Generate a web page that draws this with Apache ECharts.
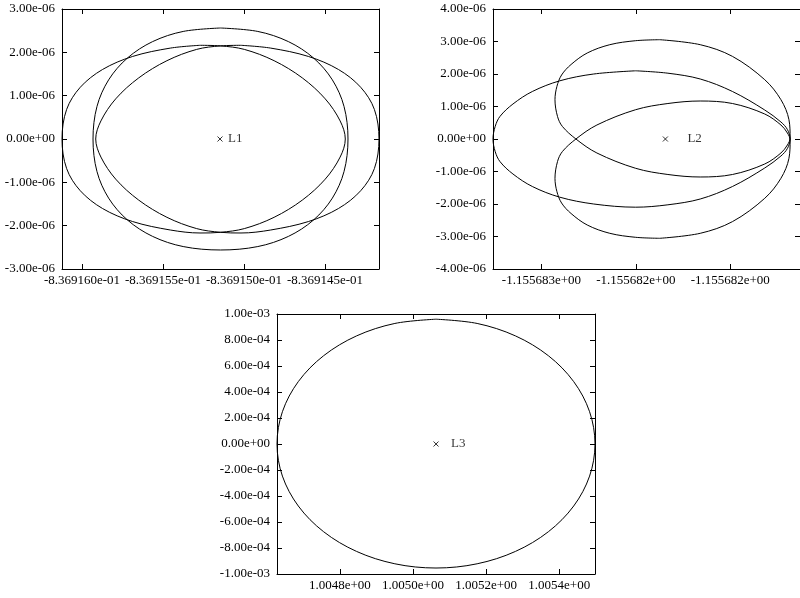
<!DOCTYPE html>
<html><head><meta charset="utf-8">
<script src="https://cdn.jsdelivr.net/npm/echarts@6/dist/echarts.min.js"></script>
<style>html,body{margin:0;padding:0;background:#fff}#c{width:800px;height:598px}</style>
</head><body><div id="c"></div>
<script>
// ---------- Panel 1 (L1) ----------
const p1XRange = [-0.8369161235, -0.8369141667];
const p1YRange = [-3e-6, 3e-6];
const p1TickX = [-0.836916, -0.8369155, -0.836915, -0.8369145];
const p1TickXLabels = ['-8.369160e-01', '-8.369155e-01', '-8.369150e-01', '-8.369145e-01'];
const p1TickY = [-3e-6, -2e-6, -1e-6, 0, 1e-6, 2e-6, 3e-6];
const p1TickYLabels = ['-3.00e-06', '-2.00e-06', '-1.00e-06', '0.00e+00', '1.00e-06', '2.00e-06', '3.00e-06'];

// loop reaching the left border, narrower on the right
const l1LoopPX = [-0.8369152716, -0.8369151451, -0.8369149979, -0.8369148142, -0.8369146401, -0.8369144985, -0.8369144066, -0.8369143748, -0.8369144066, -0.8369144985, -0.8369146401, -0.8369148142, -0.8369149979, -0.8369151451, -0.8369152716, -0.8369154548, -0.8369156875, -0.8369158736, -0.8369160108, -0.8369160950, -0.8369161235, -0.8369160950, -0.8369160108, -0.8369158736, -0.8369156875, -0.8369154548, -0.8369152716];
const l1LoopPY = [2.1623e-6, 2.1485e-6, 2.0677e-6, 1.8069e-6, 1.4100e-6, 9.263e-7, 4.170e-7, 0, -4.170e-7, -9.263e-7, -1.4100e-6, -1.8069e-6, -2.0677e-6, -2.1531e-6, -2.1692e-6, -2.1000e-6, -1.9050e-6, -1.6032e-6, -1.1935e-6, -6.817e-7, 0, 6.817e-7, 1.1935e-6, 1.6032e-6, 1.9050e-6, 2.0977e-6, 2.1623e-6];

// loop reaching the right border, narrower on the left
const l1LoopQX = [-0.8369150185, -0.8369151451, -0.8369152923, -0.8369154759, -0.8369156500, -0.8369157920, -0.8369158833, -0.8369159154, -0.8369158833, -0.8369157920, -0.8369156500, -0.8369154759, -0.8369152923, -0.8369151451, -0.8369150185, -0.8369148352, -0.8369146025, -0.8369144167, -0.8369142796, -0.8369141951, -0.8369141667, -0.8369141951, -0.8369142796, -0.8369144167, -0.8369146025, -0.8369148352, -0.8369150185];
const l1LoopQY = [2.1623e-6, 2.1485e-6, 2.0677e-6, 1.8069e-6, 1.4100e-6, 9.263e-7, 4.170e-7, 0, -4.170e-7, -9.263e-7, -1.4100e-6, -1.8069e-6, -2.0677e-6, -2.1531e-6, -2.1692e-6, -2.1000e-6, -1.9050e-6, -1.6032e-6, -1.1935e-6, -6.817e-7, 0, 6.817e-7, 1.1935e-6, 1.6032e-6, 1.9050e-6, 2.0977e-6, 2.1623e-6];

// tall loop
const l1LoopTX = [-0.8369151451, -0.8369149148, -0.8369147260, -0.8369145708, -0.8369144546, -0.8369143825, -0.8369143581, -0.8369143825, -0.8369144546, -0.8369145708, -0.8369147260, -0.8369149148, -0.8369151451, -0.8369153754, -0.8369155642, -0.8369157194, -0.8369158357, -0.8369159077, -0.8369159321, -0.8369159077, -0.8369158357, -0.8369157194, -0.8369155642, -0.8369153754, -0.8369151451];
const l1LoopTY = [2.5615e-6, 2.4822e-6, 2.2475e-6, 1.8692e-6, 1.3641e-6, 7.498e-7, 0, -7.498e-7, -1.3641e-6, -1.8692e-6, -2.2475e-6, -2.4822e-6, -2.5615e-6, -2.4822e-6, -2.2475e-6, -1.8692e-6, -1.3641e-6, -7.498e-7, 0, 7.498e-7, 1.3641e-6, 1.8692e-6, 2.2475e-6, 2.4822e-6, 2.5615e-6];

// ---------- Panel 2 (L2) ----------
const p2XRange = [-1.1556832564, -1.1556816308];
const p2YRange = [-4e-6, 4e-6];
const p2TickX = [-1.155683, -1.1556825, -1.155682];
const p2TickXLabels = ['-1.155683e+00', '-1.155682e+00', '-1.155682e+00'];
const p2TickY = [-4e-6, -3e-6, -2e-6, -1e-6, 0, 1e-6, 2e-6, 3e-6, 4e-6];
const p2TickYLabels = ['-4.00e-06', '-3.00e-06', '-2.00e-06', '-1.00e-06', '0.00e+00', '1.00e-06', '2.00e-06', '3.00e-06', '4.00e-06'];

const l2LoopAX = [-1.1556825010, -1.1556823303, -1.1556821590, -1.1556819883, -1.1556818175, -1.1556817318, -1.1556816975, -1.1556816831, -1.1556816975, -1.1556817318, -1.1556818175, -1.1556819883, -1.1556821590, -1.1556823303, -1.1556825010, -1.1556827231, -1.1556829026, -1.1556830482, -1.1556831508, -1.1556832190, -1.1556832446, -1.1556832564, -1.1556832446, -1.1556832190, -1.1556831508, -1.1556830482, -1.1556829026, -1.1556827231, -1.1556825010];
const l2LoopAY = [2.0985e-6, 2.0246e-6, 1.8462e-6, 1.4615e-6, 8.923e-7, 5.231e-7, 2.923e-7, 0, -2.923e-7, -5.231e-7, -8.923e-7, -1.4615e-6, -1.8462e-6, -2.0246e-6, -2.0985e-6, -2.0e-6, -1.7908e-6, -1.4615e-6, -1.0769e-6, -6.985e-7, -3.908e-7, 0, 3.908e-7, 6.985e-7, 1.0769e-6, 1.4615e-6, 1.7908e-6, 2.0e-6, 2.0985e-6];

const l2LoopBX = [-1.1556823729, -1.1556821590, -1.1556819883, -1.1556818175, -1.1556817318, -1.1556816893, -1.1556816831, -1.1556816975, -1.1556817318, -1.1556818175, -1.1556819883, -1.1556821590, -1.1556823303, -1.1556825010, -1.1556827062, -1.1556828174, -1.1556828892, -1.1556829149, -1.1556829282, -1.1556829180, -1.1556828933, -1.1556828431, -1.1556827574, -1.1556826380, -1.1556825010, -1.1556823729];
const l2LoopBY = [3.0554e-6, 2.9015e-6, 2.5415e-6, 1.8246e-6, 1.2092e-6, 5.938e-7, 3.08e-8, -1.846e-7, -4.308e-7, -7.692e-7, -1.0923e-6, -1.1692e-6, -1.0923e-6, -9.015e-7, -4.308e-7, 0, 3.877e-7, 6.954e-7, 1.2092e-6, 1.6185e-6, 1.9692e-6, 2.2923e-6, 2.6462e-6, 2.9015e-6, 3.0246e-6, 3.0554e-6];

const l2LoopCX = [-1.1556823729, -1.1556821590, -1.1556819883, -1.1556818175, -1.1556817318, -1.1556816893, -1.1556816831, -1.1556816975, -1.1556817318, -1.1556818175, -1.1556819883, -1.1556821590, -1.1556823303, -1.1556825010, -1.1556827062, -1.1556828174, -1.1556828892, -1.1556829149, -1.1556829282, -1.1556829180, -1.1556828933, -1.1556828431, -1.1556827574, -1.1556826380, -1.1556825010, -1.1556823729];
const l2LoopCY = [-3.0554e-6, -2.9015e-6, -2.5415e-6, -1.8246e-6, -1.2092e-6, -5.938e-7, -3.08e-8, 1.846e-7, 4.308e-7, 7.692e-7, 1.0923e-6, 1.1692e-6, 1.0923e-6, 9.015e-7, 4.308e-7, 0, -3.877e-7, -6.954e-7, -1.2092e-6, -1.6185e-6, -1.9692e-6, -2.2923e-6, -2.6462e-6, -2.9015e-6, -3.0246e-6, -3.0554e-6];

// ---------- Panel 3 (L3) ----------
const p3XRange = [1.00462817, 1.00549784];
const p3YRange = [-1e-3, 1e-3];
const p3TickX = [1.0048, 1.005, 1.0052, 1.0054];
const p3TickXLabels = ['1.0048e+00', '1.0050e+00', '1.0052e+00', '1.0054e+00'];
const p3TickY = [-1e-3, -8e-4, -6e-4, -4e-4, -2e-4, 0, 2e-4, 4e-4, 6e-4, 8e-4, 1e-3];
const p3TickYLabels = ['-1.00e-03', '-8.00e-04', '-6.00e-04', '-4.00e-04', '-2.00e-04', '0.00e+00', '2.00e-04', '4.00e-04', '6.00e-04', '8.00e-04', '1.00e-03'];

const l3LoopX = [1.00506301, 1.00517555, 1.00528042, 1.00537048, 1.00543958, 1.00548302, 1.00549784, 1.00548302, 1.00543958, 1.00537048, 1.00528042, 1.00517555, 1.00506301, 1.00495046, 1.00484559, 1.00475553, 1.00468643, 1.00464299, 1.00462817, 1.00464299, 1.00468643, 1.00475553, 1.00484559, 1.00495046, 1.00506301];
const l3LoopY = [9.6e-4, 9.2729e-4, 8.3138e-4, 6.7882e-4, 4.8e-4, 2.4847e-4, 0, -2.4691e-4, -4.77e-4, -6.7458e-4, -8.2619e-4, -9.2149e-4, -9.54e-4, -9.2149e-4, -8.2619e-4, -6.7458e-4, -4.77e-4, -2.4691e-4, 0, 2.4847e-4, 4.8e-4, 6.7882e-4, 8.3138e-4, 9.2729e-4, 9.6e-4];

// ---------- Libration points ----------
const libNames = ['L1', 'L2', 'L3'];
const libX = [-0.8369151482, -1.1556823436, 1.0050631];
const libY = [0, 0, 0];

// ---------- build chart ----------
const FONT = 'Liberation Serif';
const grids = [
  { left: 62, top: 9, width: 317, height: 260 },
  { left: 493, top: 9, width: 317, height: 260 },
  { left: 277, top: 314, width: 318, height: 260 }
];
const panels = [
  { xr: p1XRange, yr: p1YRange, tx: p1TickX, txl: p1TickXLabels, ty: p1TickY, tyl: p1TickYLabels },
  { xr: p2XRange, yr: p2YRange, tx: p2TickX, txl: p2TickXLabels, ty: p2TickY, tyl: p2TickYLabels },
  { xr: p3XRange, yr: p3YRange, tx: p3TickX, txl: p3TickXLabels, ty: p3TickY, tyl: p3TickYLabels }
];
function labeler(vals, labels) {
  return function (v) {
    let best = 0, bd = Infinity;
    for (let i = 0; i < vals.length; i++) {
      const d = Math.abs(vals[i] - v);
      if (d < bd) { bd = d; best = i; }
    }
    return labels[best];
  };
}
const xAxes = [], yAxes = [];
panels.forEach((p, g) => {
  const make = (pos, isX, showLabel) => ({
    type: 'value', gridIndex: g, position: pos,
    min: isX ? p.xr[0] : p.yr[0], max: isX ? p.xr[1] : p.yr[1],
    scale: true,
    axisLine: { show: true, onZero: false, lineStyle: { color: '#000', width: 1 } },
    axisTick: { show: true, inside: true, length: 5, customValues: isX ? p.tx : p.ty, lineStyle: { color: '#000', width: 1 } },
    axisLabel: {
      show: showLabel, customValues: isX ? p.tx : p.ty,
      formatter: isX ? labeler(p.tx, p.txl) : labeler(p.ty, p.tyl),
      fontFamily: FONT, fontSize: 13, color: '#000', margin: isX ? 5 : 7,
      showMinLabel: true, showMaxLabel: true, hideOverlap: false
    },
    splitLine: { show: false }
  });
  xAxes.push(make('bottom', true, true));
  xAxes.push(make('top', true, false));
  yAxes.push(make('left', false, true));
  yAxes.push(make('right', false, false));
});
function zip(xs, ys) { return xs.map((x, i) => [x, ys[i]]); }
const loops = [
  [0, l1LoopPX, l1LoopPY], [0, l1LoopQX, l1LoopQY], [0, l1LoopTX, l1LoopTY],
  [1, l2LoopAX, l2LoopAY], [1, l2LoopBX, l2LoopBY], [1, l2LoopCX, l2LoopCY],
  [2, l3LoopX, l3LoopY]
];
const series = loops.map(([g, xs, ys]) => ({
  type: 'line', xAxisIndex: g * 2, yAxisIndex: g * 2,
  data: zip(xs, ys), showSymbol: false, smooth: 0.34, clip: false,
  lineStyle: { color: '#000', width: 1 }, silent: true
}));
const labelDist = [3, 17, 10];
libNames.forEach((n, g) => {
  series.push({
    type: 'scatter', xAxisIndex: g * 2, yAxisIndex: g * 2,
    data: [{ value: [libX[g], libY[g]], name: n }],
    symbol: 'path://M0,0L10,10M10,0L0,10', symbolSize: 5,
    itemStyle: { color: 'none', borderColor: '#000', borderWidth: 1 },
    label: { show: true, position: 'right', distance: labelDist[g], formatter: '{b}', fontFamily: FONT, fontSize: 13, color: '#000' },
    silent: true
  });
});
const chart = echarts.init(document.getElementById('c'), null, { renderer: 'canvas' });
chart.setOption({
  animation: false, backgroundColor: '#fff',
  grid: grids, xAxis: xAxes, yAxis: yAxes, series: series
});
</script></body></html>
